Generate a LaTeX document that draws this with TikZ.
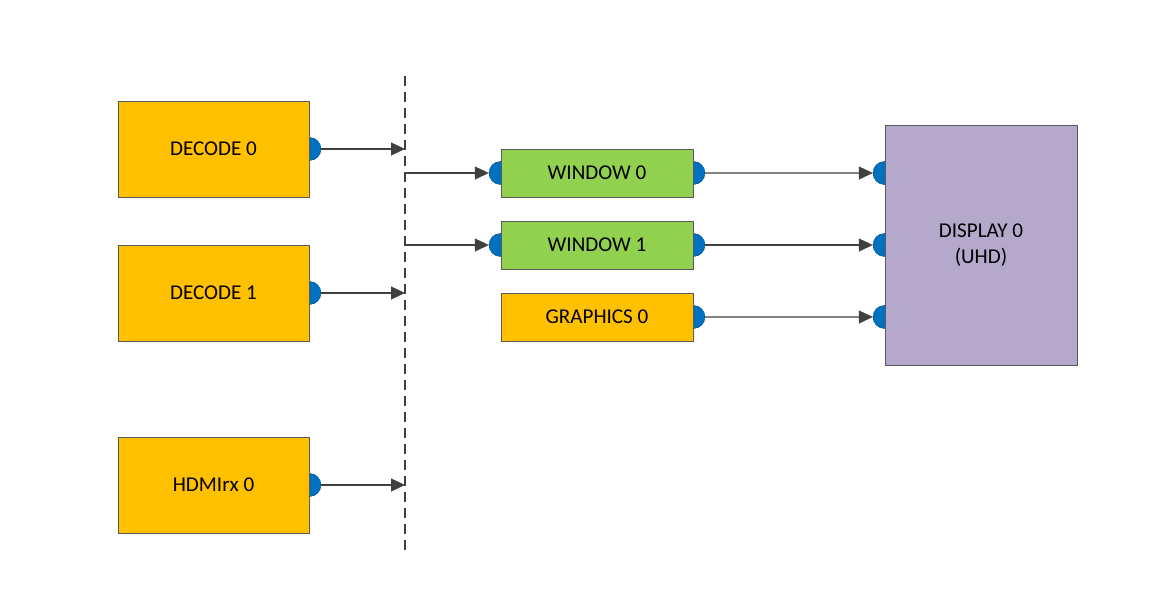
\documentclass[tikz,border=0pt]{standalone}
\usepackage{fontspec}
\setmainfont{Carlito}
\usetikzlibrary{arrows.meta,backgrounds}

\definecolor{srcorange}{HTML}{FFC000}
\definecolor{wingreen}{HTML}{92D050}
\definecolor{displilac}{HTML}{B4A9CA}
\definecolor{portblue}{HTML}{0070C0}
\definecolor{linegray}{HTML}{404040}
\definecolor{edgegray}{HTML}{5A5A5A}

\begin{document}
\begin{tikzpicture}[x=0.02cm, y=-0.02cm,
    box/.style={draw=edgegray, line width=0.5pt, font=\fontsize{12}{14.5}\selectfont,
        align=center, inner sep=0pt},
    srcbox/.style={box, fill=srcorange, minimum width=3.82cm, minimum height=1.92cm},
    winbox/.style={box, fill=wingreen, minimum width=3.84cm, minimum height=0.96cm},
    gfxbox/.style={box, fill=srcorange, minimum width=3.84cm, minimum height=0.96cm},
    dispbox/.style={box, fill=displilac, minimum width=3.84cm, minimum height=4.8cm},
    port/.style={circle, fill=portblue, draw=portblue!70!black, line width=0.3pt,
        minimum size=0.46cm, inner sep=0pt},
    conn/.style={draw=linegray, line width=0.6pt,
        -{Triangle[length=2.8mm, width=2.6mm]}}]
    \useasboundingbox (0,0) rectangle (1164,615);

    % Sources
    \node[srcbox] (dec0) at (213.5,149) {DECODE 0};
    \node[srcbox] (dec1) at (213.5,293) {DECODE 1};
    \node[srcbox] (hdmi0) at (213.5,485) {HDMIrx 0};

    % Windows and graphics
    \node[winbox] (win0) at (597,173) {WINDOW 0};
    \node[winbox] (win1) at (597,245) {WINDOW 1};
    \node[gfxbox] (gfx0) at (597,317) {GRAPHICS 0};

    % Display
    \node[dispbox] (disp0) at (981,245) {DISPLAY 0\\(UHD)};

    % Ports (behind the boxes)
    \begin{pgfonlayer}{background}
        \foreach \b in {dec0,dec1,hdmi0,win0,win1,gfx0} {
            \node[port] (\b out) at (\b.east) {};
        }
        \foreach \b in {win0,win1} {
            \node[port] (\b in) at (\b.west) {};
        }
        \node[port] (disp0in0) at ([yshift=1.44cm]disp0.west) {};
        \node[port] (disp0in1) at (disp0.west) {};
        \node[port] (disp0in2) at ([yshift=-1.44cm]disp0.west) {};
    \end{pgfonlayer}

    % Dashed bus
    \coordinate (bustop) at (405,76);
    \coordinate (busbot) at (405,550);
    \draw[linegray, line width=1.7pt, dash pattern=on 0.2cm off 0.12cm] (bustop) -- (busbot);
    \coordinate (bus0) at (405,149);
    \coordinate (bus1) at (405,293);
    \coordinate (bus2) at (405,485);
    \coordinate (tap0) at (405,173);
    \coordinate (tap1) at (405,245);

    % Connectors
    \draw[conn] (dec0out.east) -- (bus0);
    \draw[conn] (dec1out.east) -- (bus1);
    \draw[conn] (hdmi0out.east) -- (bus2);
    \draw[conn] (tap0) -- (win0in.west);
    \draw[conn] (tap1) -- (win1in.west);
    \draw[conn] (win0out.east) -- (disp0in0.west);
    \draw[conn] (win1out.east) -- (disp0in1.west);
    \draw[conn] (gfx0out.east) -- (disp0in2.west);
\end{tikzpicture}
\end{document}
